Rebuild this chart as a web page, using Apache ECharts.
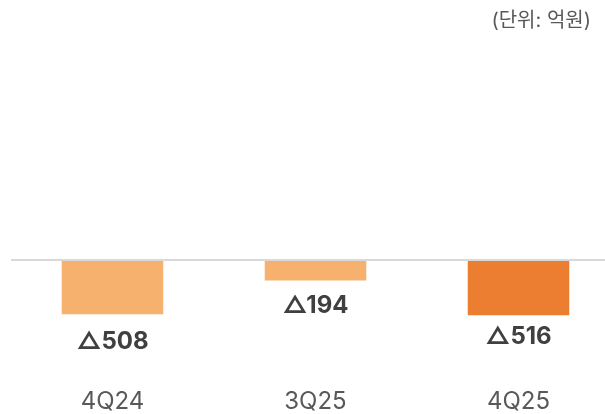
<!DOCTYPE html>
<html>
<head>
<meta charset="utf-8">
<script src="https://cdn.jsdelivr.net/npm/echarts@6/dist/echarts.min.js"></script>
<style>
  html, body { margin: 0; padding: 0; background: #fff; }
  #chart { width: 605px; height: 414px; }
</style>
</head>
<body>
<div id="chart"></div>
<script>
// 데이터
const categories = ['4Q24', '3Q25', '4Q25']
const values = [-508, -194, -516]
const unitText = '(단위: 억원)'

// 스타일
const barColors = ['#F6B16E', '#F6B16E', '#EB7E31']
const labelGaps = [15, 13, 10]
const fontFamily = 'Inter, "Noto Sans CJK KR", "DejaVu Sans", sans-serif'

const chart = echarts.init(document.getElementById('chart'))

const option = {
  animation: false,
  textStyle: { fontFamily: fontFamily },
  title: {
    text: unitText,
    right: 9,
    top: 6,
    textStyle: { fontSize: 20, fontWeight: 'normal', color: '#595959', fontFamily: fontFamily }
  },
  grid: { left: 11, width: 609, top: 151.5, bottom: 46.5, outerBoundsMode: 'none' },
  xAxis: {
    type: 'category',
    data: categories,
    axisLine: { show: false, onZero: false },
    axisTick: { show: false },
    axisLabel: { fontSize: 24, color: '#595959', margin: 22, fontFamily: fontFamily }
  },
  yAxis: {
    type: 'value',
    min: -1000,
    max: 1000,
    show: false,
    splitLine: { show: false }
  },
  series: [
    {
      type: 'bar',
      data: values.map((v, i) => ({
        value: v,
        itemStyle: { color: barColors[i] },
        label: { distance: labelGaps[i] }
      })),
      barWidth: '50%',
      label: {
        show: true,
        position: 'bottom',
        fontSize: 24,
        fontWeight: 'bold',
        color: '#404040',
        fontFamily: fontFamily,
        formatter: p => '△' + Math.abs(p.value)
      },
      markLine: {
        silent: true,
        symbol: 'none',
        label: { show: false },
        lineStyle: { color: '#D9D9D9', width: 2, type: 'solid' },
        data: [{ yAxis: 0 }]
      }
    }
  ]
}

chart.setOption(option)
</script>
</body>
</html>
